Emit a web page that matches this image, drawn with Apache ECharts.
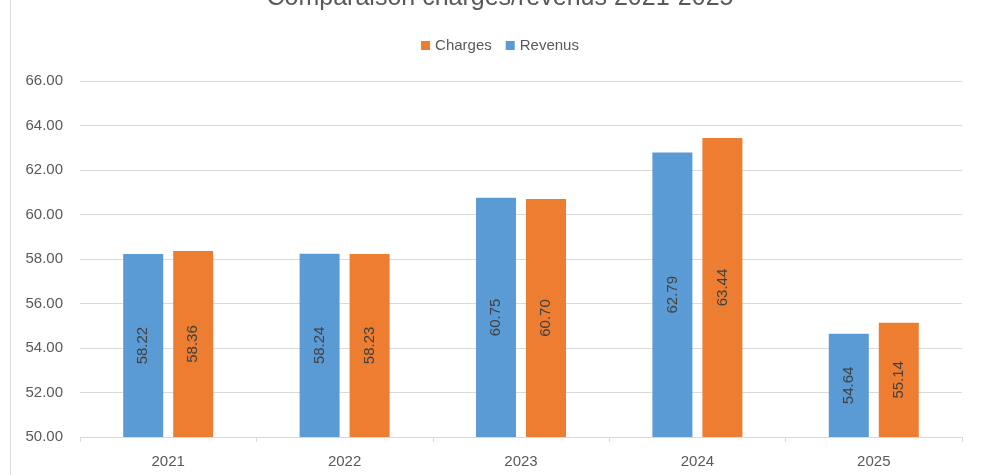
<!DOCTYPE html>
<html><head><meta charset="utf-8">
<script src="https://cdn.jsdelivr.net/npm/echarts@6/dist/echarts.min.js"></script>
<style>html,body{margin:0;padding:0;background:#fff}#c{width:1000px;height:475px}</style>
</head><body><div id="c"></div>
<script>
var categories = ['2021','2022','2023','2024','2025'];
var revenus = [58.22, 58.24, 60.75, 62.79, 54.64];
var charges = [58.36, 58.23, 60.70, 63.44, 55.14];
var yTicks = {min: 50, max: 66, interval: 2};
var FONT = 'Liberation Sans';
var chart = echarts.init(document.getElementById('c'));
var lbl = {show: true, position: 'inside', rotate: 90, color: '#404040', fontSize: 15, fontFamily: FONT,
  formatter: function(p){ return p.value.toFixed(2); }};
chart.setOption({
  animation: false,
  title: {text: 'Comparaison charges/revenus 2021-2025', left: 'center', top: -19,
    textStyle: {color: '#595959', fontSize: 25, fontWeight: 'normal', fontFamily: FONT}},
  legend: {data: ['Charges','Revenus'], top: 33, left: 'center', itemWidth: 9, itemHeight: 9, itemGap: 14,
    icon: 'rect', textStyle: {color: '#595959', fontSize: 15, fontFamily: FONT}},
  grid: {left: 80, right: 38, top: 81, bottom: 38, containLabel: false},
  xAxis: {type: 'category', data: categories,
    axisLine: {lineStyle: {color: '#d9d9d9'}},
    axisTick: {show: true, length: 5, lineStyle: {color: '#d9d9d9'}},
    axisLabel: {color: '#595959', fontSize: 15, fontFamily: FONT, margin: 17}},
  yAxis: {type: 'value', min: yTicks.min, max: yTicks.max, interval: yTicks.interval,
    axisLine: {show: false}, axisTick: {show: false},
    splitLine: {lineStyle: {color: '#d9d9d9', width: 1}},
    axisLabel: {color: '#595959', fontSize: 15, fontFamily: FONT, margin: 17,
      formatter: function(v){ return v.toFixed(2); }}},
  series: [
    {name: 'Revenus', type: 'bar', data: revenus, barWidth: 40, barGap: '25%',
      itemStyle: {color: '#5b9bd5'}, label: lbl},
    {name: 'Charges', type: 'bar', data: charges, barWidth: 40,
      itemStyle: {color: '#ed7d31'}, label: lbl}
  ],
  graphic: [{type: 'line', shape: {x1: 10.5, y1: 0, x2: 10.5, y2: 475}, style: {stroke: '#d9d9d9', lineWidth: 1}}]
});
</script></body></html>
